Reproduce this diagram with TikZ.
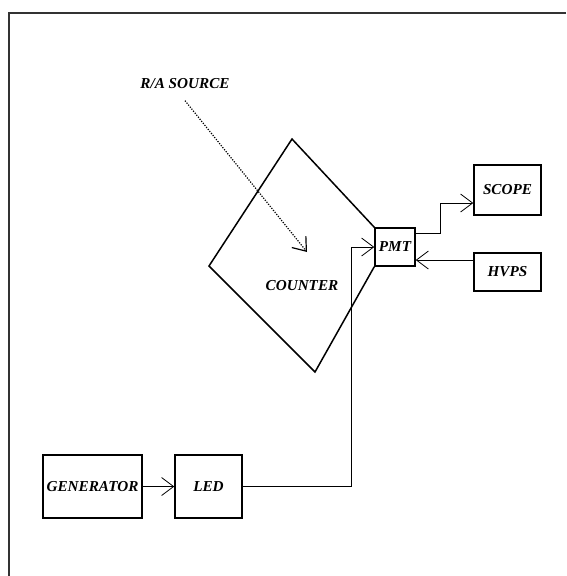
\documentclass[tikz,border=0pt]{standalone}
\usepackage{fontspec}
\setmainfont{Liberation Serif}
\usepackage{tikz}
\usetikzlibrary{arrows.meta, positioning, calc}
\tikzset{
  >={Straight Barb[length=12pt,width=18pt]},
  font=\fontsize{15.2}{16}\selectfont\bfseries\itshape,
  blk/.style={
    draw, line width=1.5pt, inner sep=0pt, align=center
  },
  arr/.style={->, line width=0.8pt},
  dots/.style={dash pattern=on 1.2pt off 1.4pt, line width=1.2pt},
  frm/.style={line width=1.3pt, draw=black!80}
}

\begin{document}
\begin{tikzpicture}[x=1pt,y=-1pt]
  \useasboundingbox (0,0) rectangle (566,576);
  \draw[frm] (566,13) -- (9,13) -- (9,576);
  % blocks
  \node[blk,minimum width=99pt,minimum height=63pt] (gen) at (92.5,486.5) {GENERATOR};
  \node[blk,minimum width=67pt,minimum height=63pt] (led) at (208.5,486.5) {LED};
  \node[blk,minimum width=40pt,minimum height=38pt] (pmt) at (395,247) {PMT};
  \node[blk,minimum width=67pt,minimum height=50pt] (scope) at (507.5,190) {SCOPE};
  \node[blk,minimum width=67pt,minimum height=38pt] (hvps) at (507.5,272) {HVPS};
  % counter outline
  \draw[line width=1.5pt] (pmt.north west) -- (292,139) -- (209,266) -- (315,372) -- (pmt.south west);
  \node (counter) at (302,286) {COUNTER};
  \node (src) at (185,84) {R/A SOURCE};
  \coordinate (srctip) at (307,252);
  \coordinate (lbend) at (351,247);
  \coordinate (sbend) at (440,203);
  % connectors
  \draw[arr] (gen.east) -- (led.west);
  \draw[arr] (led.east) -| (lbend) -- (pmt.west);
  \draw[arr] ([yshift=14pt]pmt.east) -| (sbend) -- (scope.west |- sbend);
  \draw[arr] ([yshift=12pt]hvps.west) -- ([yshift=-13pt]pmt.east);
  \draw[arr,dots] ([yshift=-8pt]src.south) -- (srctip);
\end{tikzpicture}
\end{document}
